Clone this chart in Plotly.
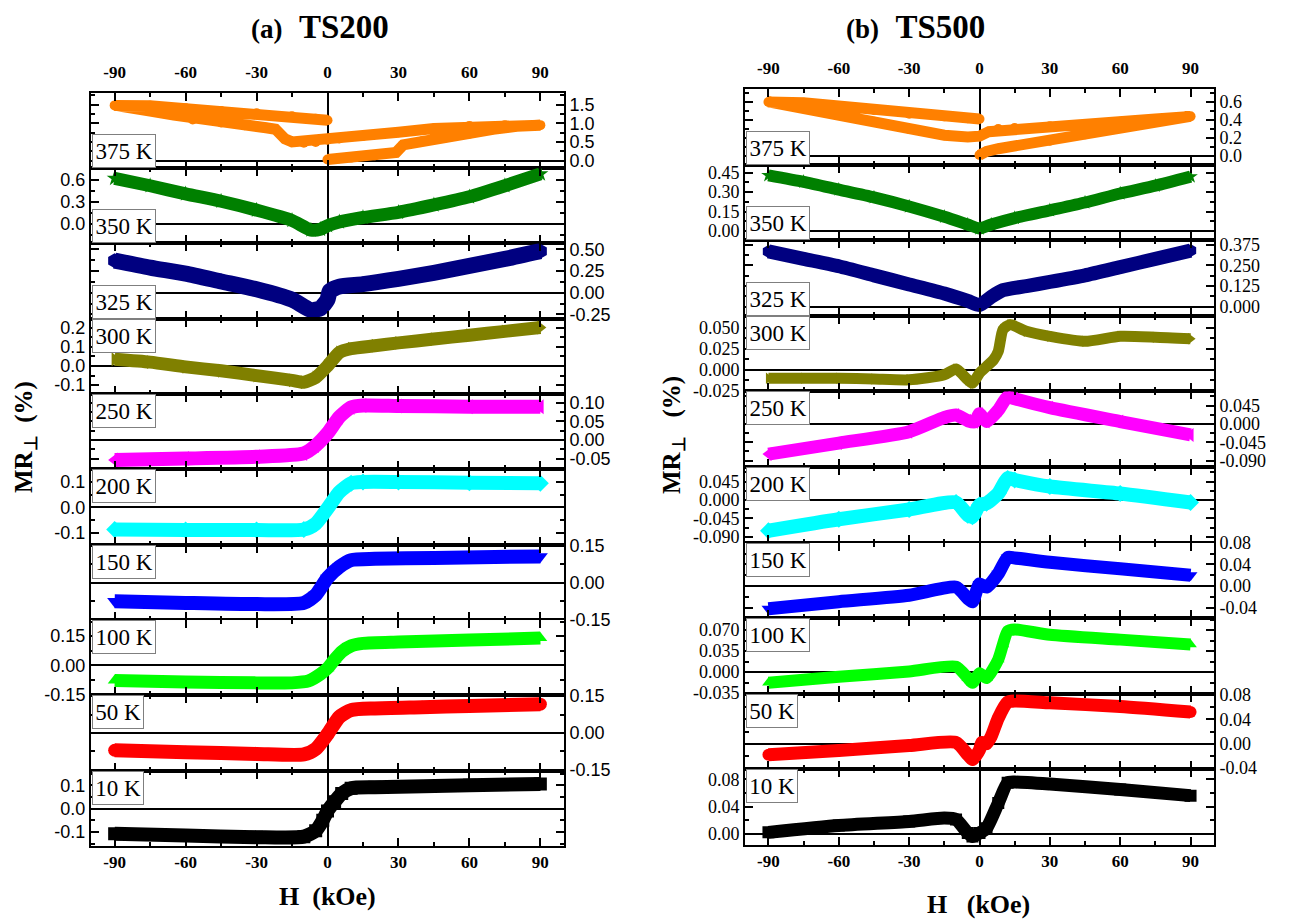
import plotly.graph_objects as go

W, H = 1291, 923
OFF = 8  # page body margin of the html page, compensated in pixel->paper mapping

# ---------------- data ----------------
temps = ["375 K", "350 K", "325 K", "300 K", "250 K", "200 K", "150 K", "100 K", "50 K", "10 K"]
colors = ["#FF8000", "#008000", "#000080", "#808000", "#FF00FF",
          "#00FFFF", "#0000FF", "#00FF00", "#FF0000", "#000000"]
symbols = ["circle", "star", "hexagon", "triangle-right", "triangle-left",
           "diamond", "triangle-down", "triangle-up", "circle", "square"]

h_ticks = [-90, -60, -30, 0, 30, 60, 90]
h_tick_text = ["-90", "-60", "-30", "0", "30", "60", "90"]
h_minor = [-75, -45, -15, 15, 45, 75]

# ---- TS200 (a) ----
a375_h = [0, 5, 10, 20, 29, 32, 40, 50, 60, 70, 80, 90,
          75, 60, 45, 30, 15, 5, 0, -5, -10, -15, -18, -22, -26, -35, -45, -57, -65, -75, -90,
          -75, -60, -45, -30, -15, -5, 0]
a375_mr = [0.03, 0.06, 0.08, 0.14, 0.22, 0.42, 0.52, 0.62, 0.72, 0.84, 0.92, 0.95,
           0.95, 0.93, 0.86, 0.76, 0.66, 0.59, 0.56, 0.50, 0.48, 0.50, 0.58, 0.84, 0.88, 0.95, 1.02, 1.10, 1.22, 1.33, 1.48,
           1.47, 1.40, 1.33, 1.27, 1.19, 1.12, 1.08]
a350_h = [-90, -75, -60, -45, -30, -15, -7, -3, 0, 5, 15, 30, 45, 60, 75, 90]
a350_mr = [0.62, 0.52, 0.41, 0.31, 0.19, 0.05, -0.08, -0.07, -0.02, 0.03, 0.09, 0.16, 0.26, 0.37, 0.52, 0.68]
a325_h = [-90, -75, -60, -45, -30, -15, -7, -3, 0, 1, 5, 15, 30, 45, 60, 75, 90]
a325_mr = [0.37, 0.29, 0.22, 0.13, 0.04, -0.08, -0.20, -0.18, -0.08, 0.02, 0.07, 0.10, 0.16, 0.23, 0.31, 0.39, 0.48]
a300_h = [-90, -75, -60, -45, -30, -15, -10, -5, 0, 5, 10, 20, 30, 45, 60, 75, 90]
a300_mr = [0.035, 0.02, -0.005, -0.025, -0.05, -0.075, -0.085, -0.06, 0.0, 0.07, 0.09, 0.105, 0.12, 0.14, 0.16, 0.18, 0.20]
a250_h = [-90, -60, -30, -10, -5, 0, 5, 10, 15, 30, 60, 90]
a250_mr = [-0.054, -0.05, -0.045, -0.036, -0.015, 0.018, 0.062, 0.088, 0.093, 0.092, 0.09, 0.09]
a200_h = [-90, -60, -30, -10, -5, 0, 5, 10, 15, 30, 60, 90]
a200_mr = [-0.088, -0.09, -0.09, -0.088, -0.065, -0.005, 0.06, 0.095, 0.1, 0.1, 0.097, 0.095]
a150_h = [-90, -60, -30, -10, -5, 0, 5, 10, 20, 45, 90]
a150_mr = [-0.075, -0.082, -0.087, -0.082, -0.05, 0.02, 0.065, 0.093, 0.098, 0.102, 0.108]
a100_h = [-90, -60, -30, -15, -8, -3, 0, 3, 6, 10, 15, 30, 60, 90]
a100_mr = [-0.078, -0.085, -0.09, -0.09, -0.08, -0.045, -0.015, 0.03, 0.07, 0.1, 0.113, 0.12, 0.13, 0.14]
a50_h = [-90, -60, -30, -10, -5, 0, 5, 10, 20, 40, 60, 90]
a50_mr = [-0.07, -0.078, -0.085, -0.087, -0.065, -0.005, 0.065, 0.093, 0.1, 0.105, 0.11, 0.117]
a10_h = [-90, -60, -30, -10, -5, -2, 0, 3, 6, 10, 20, 60, 90]
a10_mr = [-0.107, -0.115, -0.122, -0.12, -0.095, -0.05, -0.01, 0.03, 0.065, 0.088, 0.092, 0.1, 0.106]

# ---- TS500 (b) ----
b375_h = [0, 3, 8, 15, 30, 45, 60, 75, 90,
          75, 60, 45, 30, 15, 8, 4, 0, -5, -15, -30, -45, -60, -75, -90,
          -75, -60, -45, -30, -15, -5, 0]
b375_mr = [0.01, 0.05, 0.08, 0.11, 0.17, 0.24, 0.31, 0.38, 0.44,
           0.41, 0.38, 0.355, 0.33, 0.31, 0.30, 0.27, 0.22, 0.21, 0.23, 0.30, 0.38, 0.46, 0.53, 0.60,
           0.59, 0.55, 0.51, 0.47, 0.44, 0.42, 0.41]
b350_h = [-90, -75, -60, -45, -30, -15, -5, 0, 5, 15, 30, 45, 60, 75, 90]
b350_mr = [0.43, 0.38, 0.32, 0.26, 0.19, 0.11, 0.05, 0.02, 0.05, 0.10, 0.16, 0.22, 0.29, 0.35, 0.42]
b325_h = [-90, -75, -60, -45, -30, -15, -5, 0, 5, 10, 20, 30, 45, 60, 75, 90]
b325_mr = [0.335, 0.29, 0.245, 0.19, 0.135, 0.08, 0.035, 0.01, 0.06, 0.10, 0.125, 0.15, 0.19, 0.24, 0.29, 0.34]
b300_h = [-90, -75, -60, -45, -30, -15, -10, -5, -3, 0, 3, 6, 8, 10, 13, 20, 30, 45, 60, 75, 90]
b300_mr = [-0.010, -0.010, -0.010, -0.011, -0.012, -0.006, 0.001, -0.012, -0.016, -0.004, 0.004, 0.012,
           0.022, 0.048, 0.054, 0.046, 0.040, 0.034, 0.040, 0.039, 0.037]
b250_h = [-90, -60, -30, -15, -10, -5, -2, 0, 3, 8, 12, 15, 30, 60, 90]
b250_mr = [-0.074, -0.047, -0.019, 0.016, 0.022, 0.008, 0.005, 0.025, 0.006, 0.034, 0.067, 0.062, 0.040, 0.006, -0.027]
b200_h = [-90, -60, -30, -10, -5, -3, 0, 3, 8, 12, 15, 30, 60, 90]
b200_mr = [-0.075, -0.047, -0.023, -0.006, -0.037, -0.041, -0.012, -0.008, 0.016, 0.053, 0.049, 0.033, 0.016, -0.006]
b150_h = [-90, -60, -30, -10, -5, -3, 0, 3, 8, 12, 15, 30, 60, 90]
b150_mr = [-0.042, -0.029, -0.017, -0.002, -0.023, -0.029, 0.004, -0.002, 0.023, 0.053, 0.052, 0.044, 0.032, 0.020]
b100_h = [-90, -60, -30, -10, -5, -3, 0, 3, 8, 10, 12, 15, 30, 60, 90]
b100_mr = [-0.018, -0.008, 0.001, 0.009, -0.010, -0.018, -0.002, -0.010, 0.021, 0.046, 0.068, 0.071, 0.062, 0.054, 0.046]
b50_h = [-90, -60, -30, -10, -5, -3, 0, 1, 3, 5, 8, 12, 15, 30, 60, 90]
b50_mr = [-0.018, -0.011, -0.003, 0.002, -0.018, -0.026, -0.010, 0.002, 0.000, 0.012, 0.042, 0.068, 0.070, 0.067, 0.061, 0.052]
b10_h = [-90, -60, -30, -15, -10, -5, -3, 0, 3, 8, 12, 15, 30, 60, 90]
b10_mr = [0.002, 0.012, 0.018, 0.023, 0.021, 0.001, -0.004, 0.001, 0.008, 0.045, 0.075, 0.076, 0.073, 0.065, 0.056]

a_series = [(a375_h, a375_mr), (a350_h, a350_mr), (a325_h, a325_mr), (a300_h, a300_mr), (a250_h, a250_mr),
            (a200_h, a200_mr), (a150_h, a150_mr), (a100_h, a100_mr), (a50_h, a50_mr), (a10_h, a10_mr)]
b_series = [(b375_h, b375_mr), (b350_h, b350_mr), (b325_h, b325_mr), (b300_h, b300_mr), (b250_h, b250_mr),
            (b200_h, b200_mr), (b150_h, b150_mr), (b100_h, b100_mr), (b50_h, b50_mr), (b10_h, b10_mr)]

# y tick values and labels per panel
a_yticks = [[0.0, 0.5, 1.0, 1.5], [0.0, 0.3, 0.6], [-0.25, 0.0, 0.25, 0.5], [-0.1, 0.0, 0.1, 0.2],
            [-0.05, 0.0, 0.05, 0.1], [-0.1, 0.0, 0.1], [-0.15, 0.0, 0.15], [-0.15, 0.0, 0.15],
            [-0.15, 0.0, 0.15], [-0.1, 0.0, 0.1]]
a_ytext = [["0.0", "0.5", "1.0", "1.5"], ["0.0", "0.3", "0.6"], ["-0.25", "0.00", "0.25", "0.50"],
           ["-0.1", "0.0", "0.1", "0.2"], ["-0.05", "0.00", "0.05", "0.10"], ["-0.1", "0.0", "0.1"],
           ["-0.15", "0.00", "0.15"], ["-0.15", "0.00", "0.15"], ["-0.15", "0.00", "0.15"], ["-0.1", "0.0", "0.1"]]
b_yticks = [[0.0, 0.2, 0.4, 0.6], [0.0, 0.15, 0.30, 0.45], [0.0, 0.125, 0.25, 0.375], [-0.025, 0.0, 0.025, 0.05],
            [-0.09, -0.045, 0.0, 0.045], [-0.09, -0.045, 0.0, 0.045], [-0.04, 0.0, 0.04, 0.08],
            [-0.035, 0.0, 0.035, 0.07], [-0.04, 0.0, 0.04, 0.08], [0.0, 0.04, 0.08]]
b_ytext = [["0.0", "0.2", "0.4", "0.6"], ["0.00", "0.15", "0.30", "0.45"], ["0.000", "0.125", "0.250", "0.375"],
           ["-0.025", "0.000", "0.025", "0.050"], ["-0.090", "-0.045", "0.000", "0.045"],
           ["-0.090", "-0.045", "0.000", "0.045"], ["-0.04", "0.00", "0.04", "0.08"],
           ["-0.035", "0.000", "0.035", "0.070"], ["-0.04", "0.00", "0.04", "0.08"], ["0.00", "0.04", "0.08"]]

# ---------------- layout geometry / style ----------------
a_yrange = [[-0.2, 1.82], [-0.26, 0.76], [-0.30, 0.57], [-0.146, 0.246], [-0.079, 0.124],
            [-0.148, 0.15], [-0.152, 0.156], [-0.154, 0.233], [-0.153, 0.153], [-0.16, 0.163]]
b_yrange = [[-0.096, 0.744], [-0.071, 0.513], [-0.055, 0.403], [-0.0258, 0.0645], [-0.1057, 0.080],
            [-0.104, 0.0807], [-0.0596, 0.0805], [-0.0363, 0.0897], [-0.0421, 0.0818], [-0.0166, 0.0946]]
a_band = [11, 13, 16, 13, 14, 14, 14, 13, 14, 14]
b_band = [11, 12, 14, 11, 13, 14, 13, 12, 13, 13]


def px(x):
    return (x - OFF) / W


def py(y):
    return 1 - (y - OFF) / H


cols = [
    dict(x0=91, x1=564, top=92.7, bottom=846.0, series=a_series, yticks=a_yticks, ytext=a_ytext,
         yrange=a_yrange, band=a_band, tickfam="Liberation Sans", ticksize=18),
    dict(x0=745, x1=1214, top=89.0, bottom=845.0, series=b_series, yticks=b_yticks, ytext=b_ytext,
         yrange=b_yrange, band=b_band, tickfam="Liberation Serif", ticksize=18),
]
label_bottom = [True, True, True, False, False, False, False, False, False, False]
label_w = [58, 58, 58, 58, 58, 58, 58, 58, 46, 46]

fig = go.Figure()
layout = {}

for c, col in enumerate(cols):
    ph = (col["bottom"] - col["top"]) / 10.0
    xd = [px(col["x0"]), px(col["x1"])]
    for i in range(10):
        n = c * 10 + i + 1
        xk = "xaxis" if n == 1 else f"xaxis{n}"
        yk = "yaxis" if n == 1 else f"yaxis{n}"
        xr = "x" if n == 1 else f"x{n}"
        yr = "y" if n == 1 else f"y{n}"
        ptop = col["top"] + i * ph
        pbot = ptop + ph
        yd = [py(pbot), py(ptop)]
        hx, mr = col["series"][i]
        bw = col["band"][i]
        fig.add_trace(go.Scatter(
            x=hx, y=mr, xaxis=xr, yaxis=yr, mode="lines+markers",
            line=dict(color=colors[i], width=bw, shape=("linear" if i == 0 else "spline"),
                      smoothing=0.6),
            marker=dict(symbol=symbols[i], size=bw - 1, color=colors[i], line=dict(width=0)),
            showlegend=False, hoverinfo="skip"))
        layout[xk] = dict(
            domain=xd, range=[-100, 100], anchor=yr, automargin=False,
            showline=True, linecolor="black", linewidth=2,
            mirror="allticks", ticks="inside", ticklen=8, tickwidth=1.5, tickcolor="black",
            tickmode="array", tickvals=h_ticks, ticktext=h_tick_text,
            showticklabels=(i == 0 or i == 9), side=("top" if i == 0 else "bottom"),
            ticklabelstandoff=(6 if i == 0 else 0),
            tickfont=dict(family="Liberation Serif", size=17, color="black", weight="bold"),
            zeroline=True, zerolinecolor="black", zerolinewidth=1.5, showgrid=False,
            minor=dict(ticks="inside", ticklen=4, tickwidth=1.5, tickcolor="black", tickvals=h_minor),
            fixedrange=True)
        yt = col["yticks"][i]
        step = yt[1] - yt[0]
        yminor = [v + step / 2 for v in [yt[0] - step] + yt]
        side = "right" if i % 2 == 0 else "left"
        layout[yk] = dict(
            domain=yd, range=col["yrange"][i], anchor=xr, side=side, automargin=False,
            showline=True, linecolor="black",
            linewidth=2, mirror="allticks", ticks="inside", ticklen=8, tickwidth=1.5, tickcolor="black",
            tickmode="array", tickvals=yt, ticktext=col["ytext"][i],
            tickfont=dict(family=col["tickfam"], size=col["ticksize"], color="black"),
            zeroline=True, zerolinecolor="black", zerolinewidth=1.5, showgrid=False,
            minor=dict(ticks="inside", ticklen=4, tickwidth=1.5, tickcolor="black", tickvals=yminor),
            fixedrange=True)
        # temperature label box
        fig.add_annotation(
            xref="paper", yref="paper", x=px(col["x0"] + 1),
            y=py(pbot) if label_bottom[i] else py(ptop),
            xanchor="left", yanchor=("bottom" if label_bottom[i] else "top"),
            text=temps[i], showarrow=False, width=label_w[i], height=28, align="center",
            font=dict(family="Liberation Serif", size=23, color="black"),
            bordercolor="#7f7f7f", borderwidth=1, borderpad=2, bgcolor="white")

# titles and axis labels
fig.add_annotation(xref="paper", yref="paper", x=px(320), y=1, xanchor="center", yanchor="top",
                   height=34, valign="middle",
                   text="<span style='font-size:27px'>(a)</span>\u00a0\u00a0TS200", showarrow=False,
                   font=dict(family="Liberation Serif", size=33, color="black", weight="bold"))
fig.add_annotation(xref="paper", yref="paper", x=px(915), y=1, xanchor="center", yanchor="top",
                   height=34, valign="middle",
                   text="<span style='font-size:27px'>(b)</span>\u00a0\u00a0TS500", showarrow=False,
                   font=dict(family="Liberation Serif", size=33, color="black", weight="bold"))
fig.add_annotation(xref="paper", yref="paper", x=px(327), y=py(896), xanchor="center", yanchor="middle",
                   text="H\u00a0\u00a0(kOe)", showarrow=False,
                   font=dict(family="Liberation Serif", size=26, color="black", weight="bold"))
fig.add_annotation(xref="paper", yref="paper", x=px(978), y=py(904), xanchor="center", yanchor="middle",
                   text="H\u00a0\u00a0\u00a0(kOe)", showarrow=False,
                   font=dict(family="Liberation Serif", size=26, color="black", weight="bold"))
fig.add_annotation(xref="paper", yref="paper", x=px(25), y=py(437), xanchor="center", yanchor="middle",
                   text="MR<sub>\u22a5</sub>\u00a0\u00a0(%)", showarrow=False, textangle=-90,
                   font=dict(family="Liberation Serif", size=25, color="black", weight="bold"))
fig.add_annotation(xref="paper", yref="paper", x=px(673), y=py(435), xanchor="center", yanchor="middle",
                   text="MR<sub>\u22a5</sub>\u00a0\u00a0\u00a0(%)", showarrow=False, textangle=-90,
                   font=dict(family="Liberation Serif", size=25, color="black", weight="bold"))

fig.update_layout(width=W, height=H, autosize=False, margin=dict(l=0, r=0, t=0, b=0),
                  paper_bgcolor="white", plot_bgcolor="white", showlegend=False, **layout)

fig.write_html("out.html")
